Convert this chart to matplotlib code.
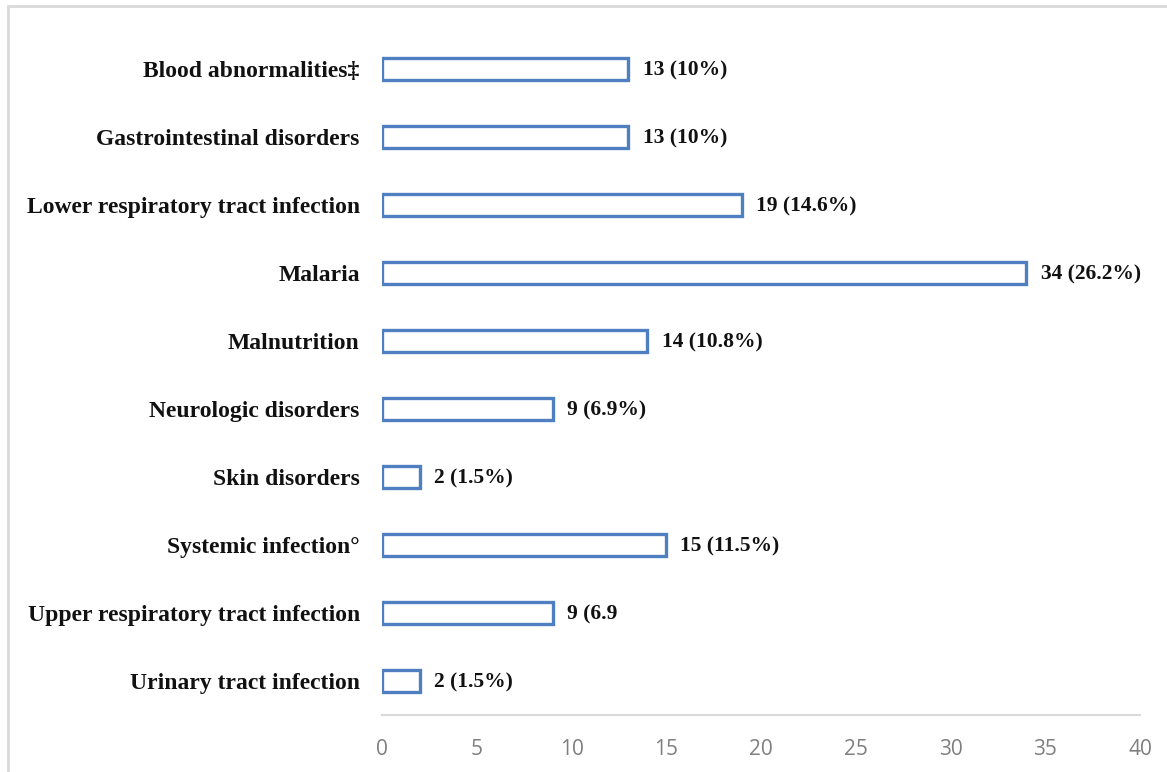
import matplotlib
matplotlib.use("Agg")
import matplotlib.pyplot as plt
from matplotlib.patches import Rectangle

# Diagnoses, top to bottom as drawn
categories = [
    "Blood abnormalities\u2021",
    "Gastrointestinal disorders",
    "Lower respiratory tract infection",
    "Malaria",
    "Malnutrition",
    "Neurologic disorders",
    "Skin disorders",
    "Systemic infection\u00b0",
    "Upper respiratory tract infection",
    "Urinary tract infection",
]
counts = [13, 13, 19, 34, 14, 9, 2, 15, 9, 2]
bar_labels = [
    "13 (10%)", "13 (10%)", "19 (14.6%)", "34 (26.2%)", "14 (10.8%)",
    "9 (6.9%)", "2 (1.5%)", "15 (11.5%)", "9 (6.9", "2 (1.5%)",
]
xticks = [0, 5, 10, 15, 20, 25, 30, 35, 40]

blue = "#4F7FC0"
serif = ["Liberation Serif", "DejaVu Serif"]

fig = plt.figure(figsize=(11.67, 7.72), dpi=100)
ax = fig.add_axes([382 / 1167, 57 / 772, 758 / 1167, 680 / 772])

ypos = list(range(len(categories)))
ax.barh(ypos, counts, height=0.33, color="white", edgecolor=blue, linewidth=2.4)

for y, v, lab in zip(ypos, counts, bar_labels):
    ax.text(v + 0.75, y + 0.02, lab, va="center", ha="left", fontsize=15.5,
            fontweight="bold", family=serif, color="#111111")

ax.set_xlim(0, 40)
ax.set_ylim(len(categories) - 0.5, -0.5)
ax.set_xticks(xticks)
ax.set_xticklabels([str(t) for t in xticks], family=["Open Sans", "DejaVu Sans"],
                   fontsize=15, color="#7f7f7f")
ax.set_yticks(ypos)
ax.set_yticklabels(categories, family=serif, fontsize=17, fontweight="bold",
                   color="#111111")
ax.tick_params(axis="y", length=0, pad=16)
ax.tick_params(axis="x", length=0, pad=17)

for side in ["top", "right", "left"]:
    ax.spines[side].set_visible(False)
ax.spines["bottom"].set_color("#d9d9d9")
ax.spines["bottom"].set_linewidth(1.5)

# light frame around the chart area (right/bottom run off the image)
fig.patches.append(Rectangle((8 / 1167, -0.05), 1.2, 1 - 6 / 772 + 0.05,
                             transform=fig.transFigure, fill=False,
                             edgecolor="#d9d9d9", linewidth=2))

fig.savefig("out.png", dpi=100)
